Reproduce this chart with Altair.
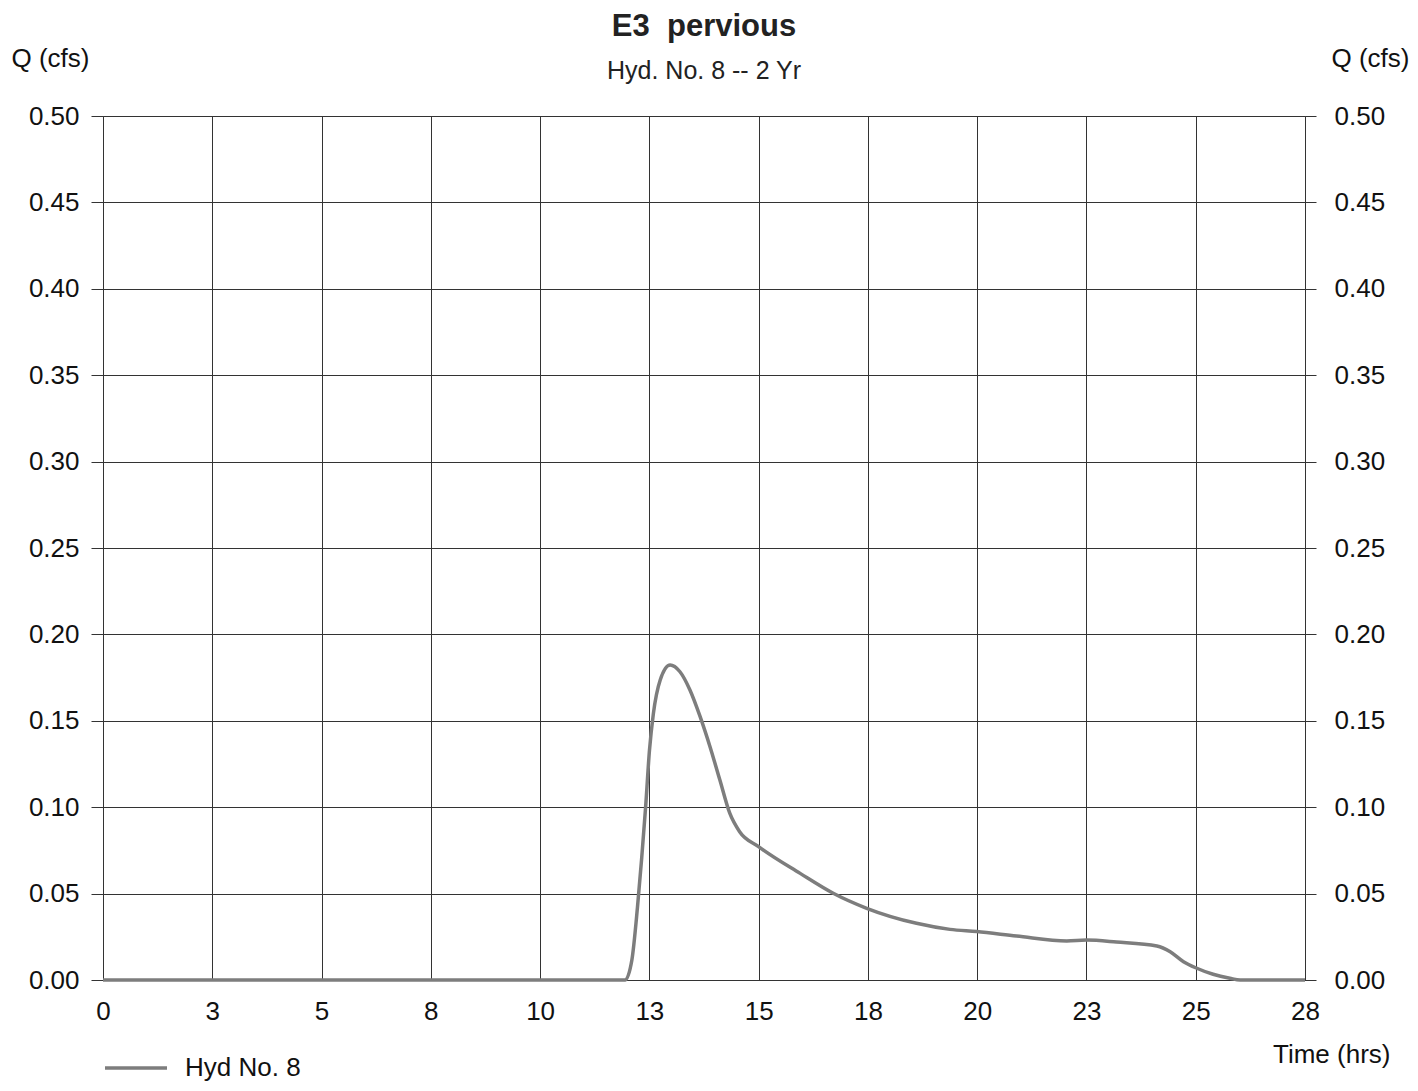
import altair as alt
import pandas as pd

# Hydrograph values
time_hrs = [0, 12.16, 12.32, 12.45, 12.55, 12.64, 12.73, 12.82, 12.98, 13.21, 13.44,
            13.67, 13.91, 14.14, 14.37, 14.60, 14.83, 15.27, 16.24, 17.01, 17.79,
            18.95, 19.73, 20.35, 21.28, 22.45, 22.91, 23.61, 24.55, 24.86, 25.17,
            25.48, 25.86, 26.25, 26.49, 28]
q_cfs = [0, 0, 0.0116, 0.042, 0.071, 0.100, 0.133, 0.154, 0.1736, 0.1823, 0.1784,
         0.168, 0.1524, 0.135, 0.1157, 0.0965, 0.0858, 0.0772, 0.0617, 0.0502, 0.0415,
         0.0328, 0.0293, 0.028, 0.0255, 0.0226, 0.0231, 0.022, 0.0197, 0.0164, 0.0106,
         0.0068, 0.0033, 0.001, 0, 0]
series_name = "Hyd No. 8"

x_tick_labels = ["0", "3", "5", "8", "10", "13", "15", "18", "20", "23", "25", "28"]
x_max = 28
x_tick_values = [i * x_max / (len(x_tick_labels) - 1) for i in range(len(x_tick_labels))]
y_tick_values = [0.0, 0.05, 0.10, 0.15, 0.20, 0.25, 0.30, 0.35, 0.40, 0.45, 0.50]

df = pd.DataFrame({"t": time_hrs, "q": q_cfs, "series": series_name})

FONT = "Liberation Sans"
FS = 26
GRID = "#333333"
LINE = "#7d7d7d"

label_list = "[" + ",".join("'%s'" % s for s in x_tick_labels) + "]"
x_enc = alt.X(
    "t:Q",
    scale=alt.Scale(domain=[0, x_max], nice=False, zero=False),
    axis=alt.Axis(
        values=x_tick_values,
        labelExpr=label_list + "[round(datum.value*%d/%d)]" % (len(x_tick_labels) - 1, x_max),
        labelFlush=False,
        ticks=False, tickSize=0, labelPadding=18,
        labelFontSize=FS, labelFont=FONT, labelColor="#111",
        grid=True, gridColor=GRID, gridWidth=1, gridOpacity=1,
        domainColor=GRID,
        title="Time (hrs)", titleFont=FONT, titleFontSize=FS, titleFontWeight="normal",
        titleColor="#111", titleAngle=0, titleAlign="right", titleBaseline="alphabetic",
        titleX=1287, titleY=82,
    ),
)

y_scale = alt.Scale(domain=[0, 0.5], nice=False)

line = alt.Chart(df).mark_line(strokeWidth=3.5, interpolate="monotone").encode(
    x=x_enc,
    y=alt.Y(
        "q:Q", scale=y_scale,
        axis=alt.Axis(
            orient="left", values=y_tick_values, format=".2f",
            tickSize=12, tickColor=GRID, labelPadding=12,
            labelFontSize=FS, labelFont=FONT, labelColor="#111",
            grid=True, gridColor=GRID, gridWidth=1, gridOpacity=1,
            domainColor=GRID,
            title="Q (cfs)", titleFont=FONT, titleFontSize=FS, titleFontWeight="normal",
            titleColor="#111", titleAngle=0, titleAlign="left", titleBaseline="alphabetic",
            titleX=-92, titleY=-50,
        ),
    ),
    color=alt.Color(
        "series:N",
        scale=alt.Scale(domain=[series_name], range=[LINE]),
        legend=alt.Legend(
            title=None, orient="none", legendX=0, legendY=919,
            symbolType="stroke", symbolSize=3844, symbolStrokeWidth=3.5,
            labelFont=FONT, labelFontSize=FS, labelColor="#111", labelOffset=16,
            padding=0,
        ),
    ),
)

right = alt.Chart(df).mark_line(opacity=0).encode(
    x=x_enc,
    y=alt.Y(
        "q:Q", scale=y_scale,
        axis=alt.Axis(
            orient="right", values=y_tick_values, format=".2f",
            tickSize=11, tickColor=GRID, labelPadding=18,
            labelFontSize=FS, labelFont=FONT, labelColor="#111",
            grid=False, domainColor=GRID,
            title="Q (cfs)", titleFont=FONT, titleFontSize=FS, titleFontWeight="normal",
            titleColor="#111", titleAngle=0, titleAlign="left", titleBaseline="alphabetic",
            titleX=26, titleY=-50,
        ),
    ),
)

chart = (
    alt.layer(line, right)
    .resolve_scale(y="independent")
    .properties(
        width=1202,
        height=864,
        autosize=alt.AutoSizeParams(type="none"),
        padding={"left": 95, "top": 108, "right": 105, "bottom": 103},
        title=alt.TitleParams(
            text="E3\u00a0 pervious",
            subtitle="Hyd. No. 8 -- 2 Yr",
            anchor="middle",
            font=FONT, fontSize=31, fontWeight="bold", color="#222",
            subtitleFont=FONT, subtitleFontSize=25, subtitleColor="#222",
            subtitlePadding=16, offset=-40,
        ),
    )
    .configure_view(stroke=GRID, strokeWidth=1)
    .configure(background="white")
)

chart.save("out.html", embed_options={"renderer": "svg", "actions": False})
